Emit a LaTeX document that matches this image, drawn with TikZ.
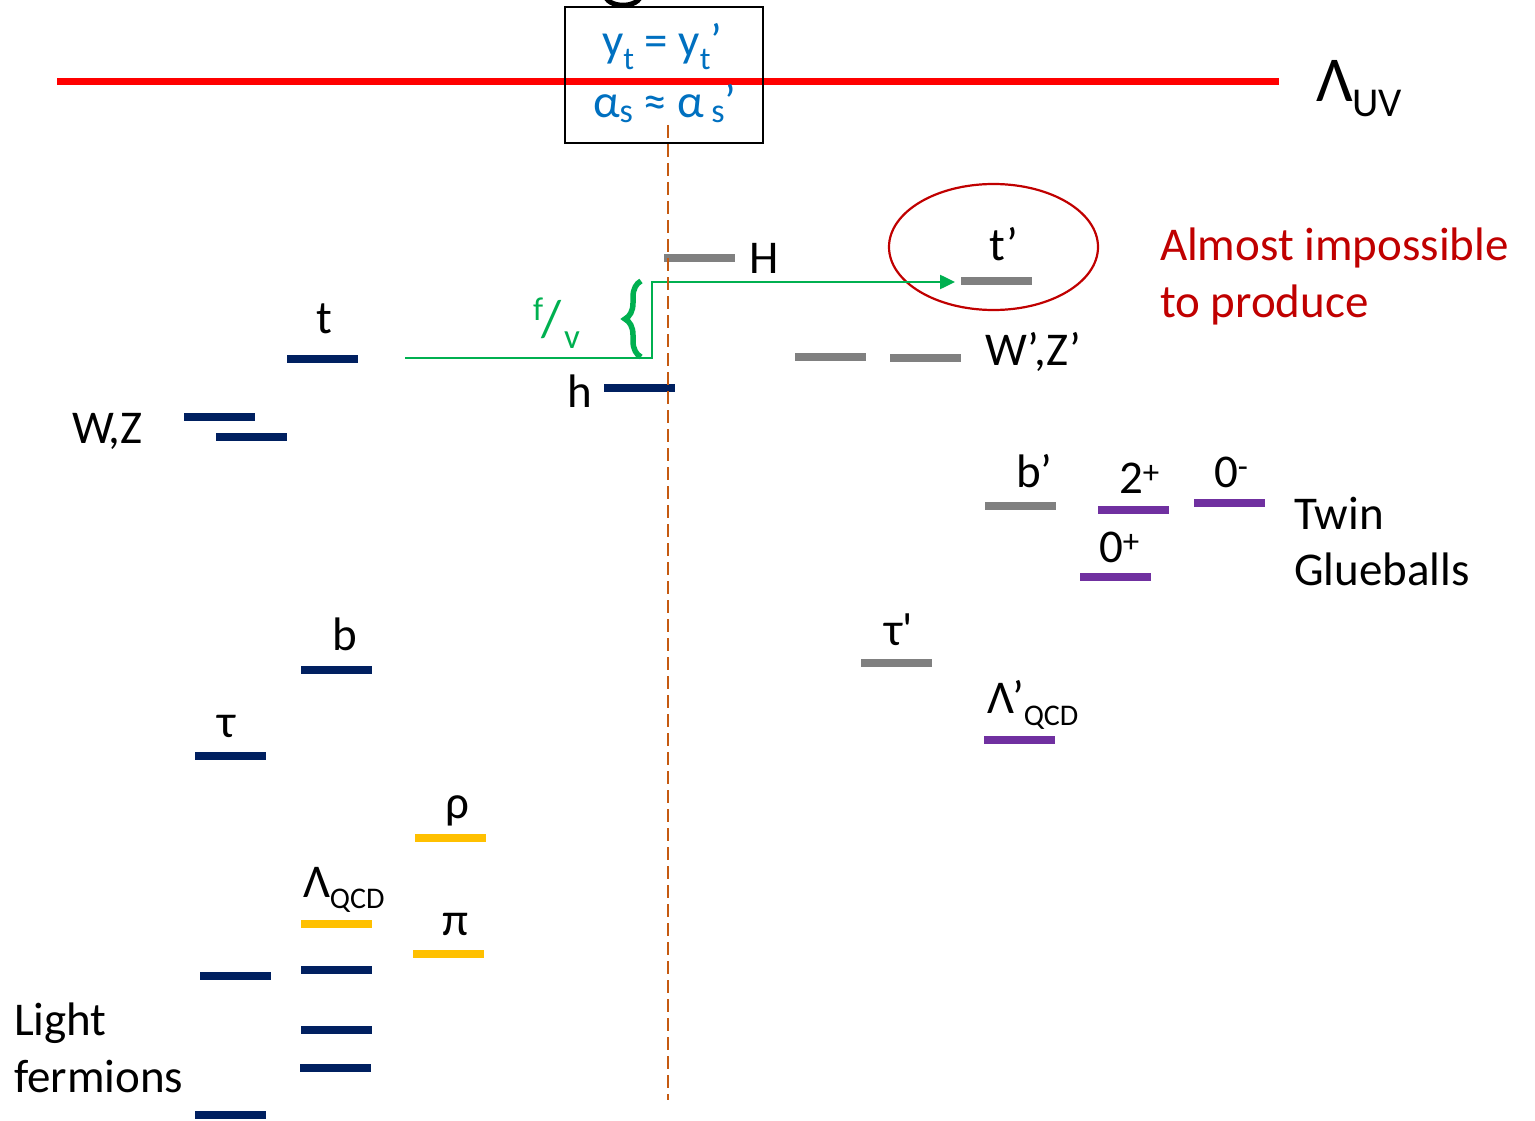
\documentclass[tikz,border=0pt]{standalone}
\usepackage{fontspec}
\setmainfont{Carlito}
\usetikzlibrary{arrows.meta,decorations.pathreplacing,shapes.geometric}
\definecolor{navy}{HTML}{002060}
\definecolor{lvgray}{HTML}{808080}
\definecolor{lvpurple}{HTML}{7030A0}
\definecolor{lvyellow}{HTML}{FFC000}
\definecolor{lvred}{HTML}{FF0000}
\definecolor{dred}{HTML}{C00000}
\definecolor{lvblue}{HTML}{0070C0}
\definecolor{lvgreen}{HTML}{00B050}
\definecolor{lvorange}{HTML}{C55A11}
\newcommand\lowtxt[3]{\raisebox{-#1pt}{\fontsize{#2}{#2}\selectfont #3}}
\begin{document}
\begin{tikzpicture}[x=1pt,y=-1pt,
  bar/.style={fill=#1, draw=none, minimum width=71pt, minimum height=8pt, inner sep=0pt, outer sep=0pt},
  lbl/.style={inner sep=0pt, outer sep=0pt, font=\fontsize{47}{54}\selectfont},
  bluelbl/.style={lbl, text=lvblue},
]
\useasboundingbox (0,0) rectangle (1535,1121);

% clipped glyph at the top
\draw[line width=5pt] (605,-6) .. controls (606,9) and (640,9) .. (641,-6);

% UV line
\draw[lvred, line width=7.5pt] (57,81.5) -- (1279,81.5);
\node[lbl, anchor=base west, font=\fontsize{64}{64}\selectfont] (luv) at (1316,102) {Λ\lowtxt{15}{41}{UV}};

% box
\node[draw, line width=1.5pt, minimum width=198pt, minimum height=136pt, inner sep=0pt] (box) at (664,75) {};
\node[bluelbl, anchor=base west] (yt) at (602,57) {y\lowtxt{13}{32}{t} = y\lowtxt{13}{32}{t}’};
\node[bluelbl, anchor=base west] (as) at (593,118) {α\lowtxt{5}{34}{s} ≈ α\hspace{7pt}\lowtxt{5}{34}{s}’};

% SM side bars
\node[bar=navy] (tbar) at (322.5,359) {};
\node[bar=navy] (wz1) at (219.5,417) {};
\node[bar=navy] (wz2) at (251.5,436.5) {};
\node[bar=navy] (hbar) at (639.5,388) {};
\node[bar=navy] (bbar) at (336.5,670) {};
\node[bar=navy] (taubar) at (230.5,755.5) {};
\node[bar=lvyellow] (rhobar) at (450.5,838) {};
\node[bar=lvyellow] (lqcdbar) at (336,924) {};
\node[bar=lvyellow] (pibar) at (448.5,954) {};
\node[bar=navy] (lf1) at (336,970) {};
\node[bar=navy] (lf2) at (235,976) {};
\node[bar=navy] (lf3) at (336.5,1029.5) {};
\node[bar=navy] (lf4) at (335.5,1068) {};
\node[bar=navy] (lf5) at (230.5,1115) {};

% twin side bars
\node[bar=lvgray] (Hbar) at (699.5,258) {};
\node[bar=lvgray] (tpbar) at (996.5,281) {};
\node[bar=lvgray] (wzp1) at (830.5,357) {};
\node[bar=lvgray] (wzp2) at (925.5,358) {};
\node[bar=lvgray] (bpbar) at (1020.5,506) {};
\node[bar=lvpurple] (g2p) at (1133.5,510) {};
\node[bar=lvpurple] (g0m) at (1229.5,503) {};
\node[bar=lvpurple] (g0p) at (1115.5,577) {};
\node[bar=lvgray] (taupbar) at (896.5,663) {};
\node[bar=lvpurple] (lqcdpbar) at (1019.5,740) {};

% SM labels
\node[lbl, anchor=base west] (tlab) at (316,333) {t};
\node[lbl, anchor=base west] (wzlab) at (72,443) {W,Z};
\node[lbl, anchor=base west] (hlab) at (567,407) {h};
\node[lbl, anchor=base west] (blab) at (332,650) {b};
\node[lbl, anchor=base west] (taulab) at (217,737) {τ};
\node[lbl, anchor=base west] (rholab) at (445,818) {ρ};
\node[lbl, anchor=base west] (lqcdlab) at (303,897) {Λ\lowtxt{11}{30}{QCD}};
\node[lbl, anchor=base west] (pilab) at (442,935) {π};
\node[lbl, anchor=base west] (light) at (14,1035) {Light};
\node[lbl, anchor=base west] (ferm) at (14,1092) {fermions};

% twin labels
\node[lbl, anchor=base west] (Hlab) at (749,273) {H};
\node[lbl, anchor=base west] (tplab) at (989,260) {t’};
\node[lbl, anchor=base west] (wzplab) at (985,365) {W’,Z’};
\node[lbl, anchor=base west] (bplab) at (1016,487) {b’};
\node[lbl, anchor=base west] (g2plab) at (1119,493) {2\textsuperscript{+}};
\node[lbl, anchor=base west] (g0mlab) at (1214,487) {0\textsuperscript{-}};
\node[lbl, anchor=base west] (g0plab) at (1099,562) {0\textsuperscript{+}};
\node[lbl, anchor=base west] (twin) at (1294,529) {Twin};
\node[lbl, anchor=base west] (glue) at (1294,585) {Glueballs};
\node[lbl, anchor=base west] (tauplab) at (884,645) {τ\textquotesingle};
\node[lbl, anchor=base west] (lqcdplab) at (987,713) {Λ’\lowtxt{12}{30}{QCD}};
\node[lbl, anchor=base west, text=dred] (almost) at (1160,260) {Almost impossible};
\node[lbl, anchor=base west, text=dred] (toprod) at (1160,317) {to produce};

% ring around t'
\node[draw=dred, ellipse, line width=2.2pt, minimum width=209pt, minimum height=126pt, inner sep=0pt] (tpring) at (993.5,247) {};

% green connector and brace
\coordinate (gstart) at (405,358);
\coordinate (gc1) at (652,358);
\coordinate (gc2) at (652,282);
\draw[lvgreen, line width=2.5pt, -{Triangle[length=15pt,width=14pt]}] (gstart) -- (gc1) -- (gc2) -- ([xshift=-6pt]tpbar.west |- gc2);
\coordinate (br1) at (641,357);
\coordinate (br2) at (641,281);
\draw[lvgreen, line width=5.5pt, decorate, decoration={brace, amplitude=16pt}] (br1) -- (br2);
\node[lbl, text=lvgreen, anchor=base west, font=\fontsize{33}{33}\selectfont] (flab) at (533,320) {f};
\node[lbl, text=lvgreen, font=\fontsize{52}{52}\selectfont] (slash) at (552,320) {/};
\node[lbl, text=lvgreen, anchor=base west, font=\fontsize{35}{35}\selectfont] (vlab) at (564,348) {v};

% dashed separator
\coordinate (d1) at (668,125);
\coordinate (d2) at (668,1100);
\draw[lvorange, line width=2.5pt, dash pattern=on 13pt off 6pt] (d1) -- (d2);
\end{tikzpicture}
\end{document}
